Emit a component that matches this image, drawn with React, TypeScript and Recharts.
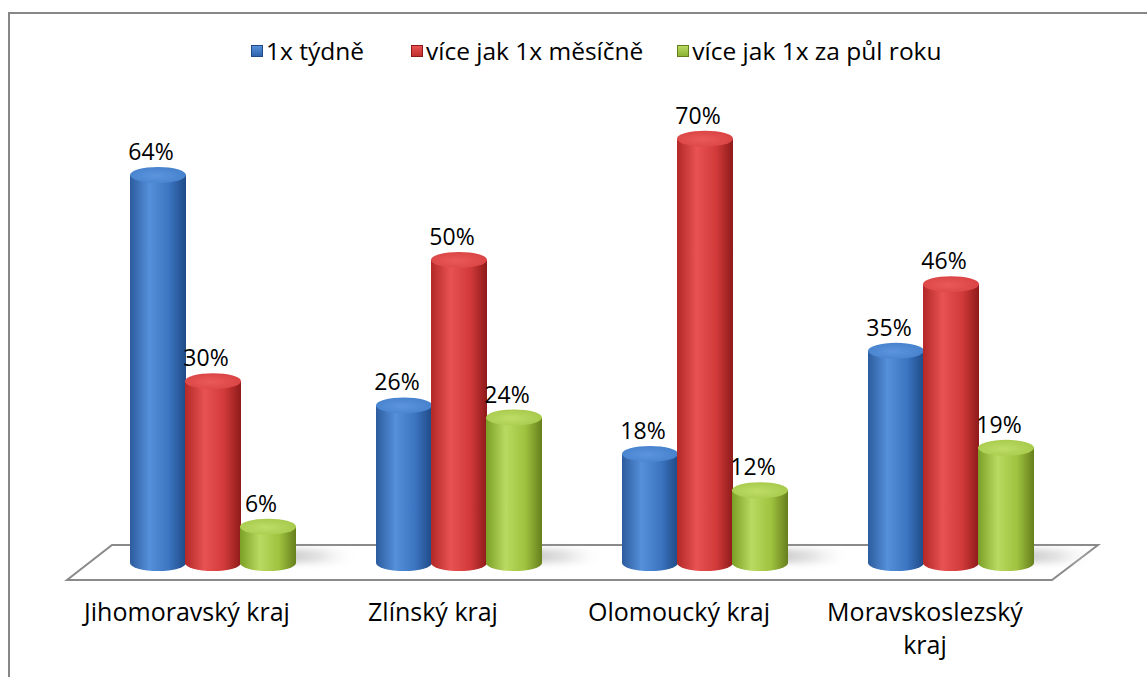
import React from 'react';
import { BarChart, Bar, XAxis, YAxis, LabelList } from 'recharts';

const categories = ['Jihomoravský kraj', 'Zlínský kraj', 'Olomoucký kraj', 'Moravskoslezský kraj'];
const weekly = [64, 26, 18, 35];
const monthly = [30, 50, 70, 46];
const halfYear = [6, 24, 12, 19];
const seriesNames = ['1x týdně', 'více jak 1x měsíčně', 'více jak 1x za půl roku'];

const data = categories.map((c, i) => ({ name: c, s0: weekly[i], s1: monthly[i], s2: halfYear[i] }));

const W = 1147;
const H = 677;
const FONT = '"Open Sans", Lato, sans-serif';
const FS_CAT = 25;
const FS_VAL = 23;
const FS_LEG = 24.5;
const margin = { top: 78, right: 73, bottom: 14, left: 90 };
const XAXIS_H = 100;
const plotBottom = H - margin.bottom - XAXIS_H;
const plotLeft = margin.left;
const plotRight = W - margin.right;
const TICK_MAX_W = 218;

const palettes = [
  { id: 'blue', edgeL: '#2c5c9e', light: '#5590da', mid: '#3b74c0', edgeR: '#1f4a86', top: '#4580cc', topLight: '#5c95dd', legend: '#2f64ad' },
  { id: 'red', edgeL: '#b32828', light: '#e85252', mid: '#d23a3a', edgeR: '#8e1a1a', top: '#d94242', topLight: '#ea5a5a', legend: '#c0302f' },
  { id: 'green', edgeL: '#7b9f26', light: '#b9da60', mid: '#9fc23f', edgeR: '#667f1c', top: '#a6c94a', topLight: '#bedd68', legend: '#8cb333' },
];

const RY = 8;

let measureCtx: CanvasRenderingContext2D | null = null;
const measure = (s: string) => {
  if (!measureCtx) {
    const c = document.createElement('canvas');
    measureCtx = c.getContext('2d');
  }
  if (!measureCtx) return s.length * FS_CAT * 0.55;
  measureCtx.font = `${FS_CAT}px "Open Sans"`;
  return measureCtx.measureText(s).width;
};

const wrap = (s: string) => {
  const words = s.split(' ');
  const lines: string[] = [];
  let cur = '';
  words.forEach((w) => {
    const t = cur ? `${cur} ${w}` : w;
    if (cur && measure(t) > TICK_MAX_W) {
      lines.push(cur);
      cur = w;
    } else {
      cur = t;
    }
  });
  if (cur) lines.push(cur);
  return lines;
};

const makeShape = (p: typeof palettes[number], withShadow: boolean) => (props: any) => {
  const { x, y, width, height } = props;
  if (height == null || width == null) return null;
  const rx = width / 2;
  const bottom = y + height;
  const d = `M${x},${y} L${x},${bottom} A${rx},${RY} 0 0 0 ${x + width},${bottom} L${x + width},${y} Z`;
  return (
    <g>
      {withShadow && (
        <rect x={x + width * 0.4} y={bottom - 14} width={width + 40} height={14} fill="url(#shadowG)" filter="url(#blurF)" />
      )}
      <path d={d} fill={`url(#body-${p.id})`} />
      <ellipse cx={x + rx} cy={y} rx={rx} ry={RY} fill={`url(#top-${p.id})`} />
    </g>
  );
};

const makeLabel = () => (props: any) => {
  const { x, y, width, value } = props;
  return (
    <text x={x + width / 2 - 7} y={y - 15} textAnchor="middle" fontFamily={FONT} fontSize={FS_VAL} fill="#000">
      {value}%
    </text>
  );
};

const CategoryTick = (props: any) => {
  const { x, y, payload } = props;
  const lines = wrap(String(payload.value));
  return (
    <text x={x - 26} y={y + 50} textAnchor="middle" fontFamily={FONT} fontSize={FS_CAT} fill="#000">
      {lines.map((l, i) => (
        <tspan key={i} x={x - 26} dy={i === 0 ? 0 : 33}>
          {l}
        </tspan>
      ))}
    </text>
  );
};

const keys = ['s0', 's1', 's2'];
const legendGaps = [0, 47, 34];

export default function App() {
  const floor = [
    [plotLeft - 23, plotBottom + 17],
    [plotRight - 22, plotBottom + 17],
    [plotRight + 24, plotBottom - 18],
    [plotLeft + 22, plotBottom - 18],
  ];
  return (
    <div style={{ position: 'fixed', left: 0, top: 0, width: W, height: H, background: '#fff', overflow: 'hidden', fontFamily: FONT }}>
      <div style={{ position: 'absolute', left: 8, top: 12, width: W, height: H, borderTop: '2px solid #878787', borderLeft: '2px solid #878787' }} />
      <svg width={W} height={H} style={{ position: 'absolute', left: 0, top: 0 }}>
        <polygon points={floor.map((p) => p.join(',')).join(' ')} fill="#fff" stroke="#8a8a8a" strokeWidth={2} />
      </svg>
      <div style={{ position: 'absolute', left: 0, top: 0 }}>
        <BarChart width={W} height={H} data={data} margin={margin} barGap={-1} barSize={56}>
          <defs>
            <linearGradient id="shadowG" x1="0" y1="0" x2="1" y2="0">
              <stop offset="0" stopColor="#9a9a9a" stopOpacity="0.8" />
              <stop offset="0.6" stopColor="#c8c8c8" stopOpacity="0.5" />
              <stop offset="1" stopColor="#ffffff" stopOpacity="0" />
            </linearGradient>
            <filter id="blurF" x="-20%" y="-50%" width="140%" height="200%">
              <feGaussianBlur stdDeviation="3" />
            </filter>
            {palettes.map((p) => (
              <React.Fragment key={p.id}>
                <linearGradient id={`body-${p.id}`} x1="0" y1="0" x2="1" y2="0">
                  <stop offset="0" stopColor={p.edgeL} />
                  <stop offset="0.35" stopColor={p.light} />
                  <stop offset="0.7" stopColor={p.mid} />
                  <stop offset="1" stopColor={p.edgeR} />
                </linearGradient>
                <radialGradient id={`top-${p.id}`} cx="0.45" cy="0.55" r="0.6">
                  <stop offset="0" stopColor={p.topLight} />
                  <stop offset="1" stopColor={p.top} />
                </radialGradient>
              </React.Fragment>
            ))}
          </defs>
          <XAxis dataKey="name" axisLine={false} tickLine={false} height={XAXIS_H} interval={0} tick={<CategoryTick />} />
          <YAxis hide domain={[0, 80]} />
          {keys.map((k, i) => (
            <Bar key={k} dataKey={k} name={seriesNames[i]} isAnimationActive={false} shape={makeShape(palettes[i], i === 2)}>
              <LabelList dataKey={k} content={makeLabel()} />
            </Bar>
          ))}
        </BarChart>
      </div>
      <div style={{ position: 'absolute', left: 251, top: 36, display: 'flex', justifyContent: 'flex-start', fontFamily: FONT, fontSize: FS_LEG, color: '#000', lineHeight: '30px', whiteSpace: 'nowrap' }}>
        {seriesNames.map((n, i) => (
          <div key={n} style={{ display: 'flex', alignItems: 'center', gap: 3, marginLeft: legendGaps[i] }}>
            <span style={{ display: 'inline-block', width: 10, height: 10, background: `linear-gradient(180deg, ${palettes[i].light}, ${palettes[i].legend})`, border: `1px solid ${palettes[i].edgeR}` }} />
            <span>{n}</span>
          </div>
        ))}
      </div>
    </div>
  );
}
